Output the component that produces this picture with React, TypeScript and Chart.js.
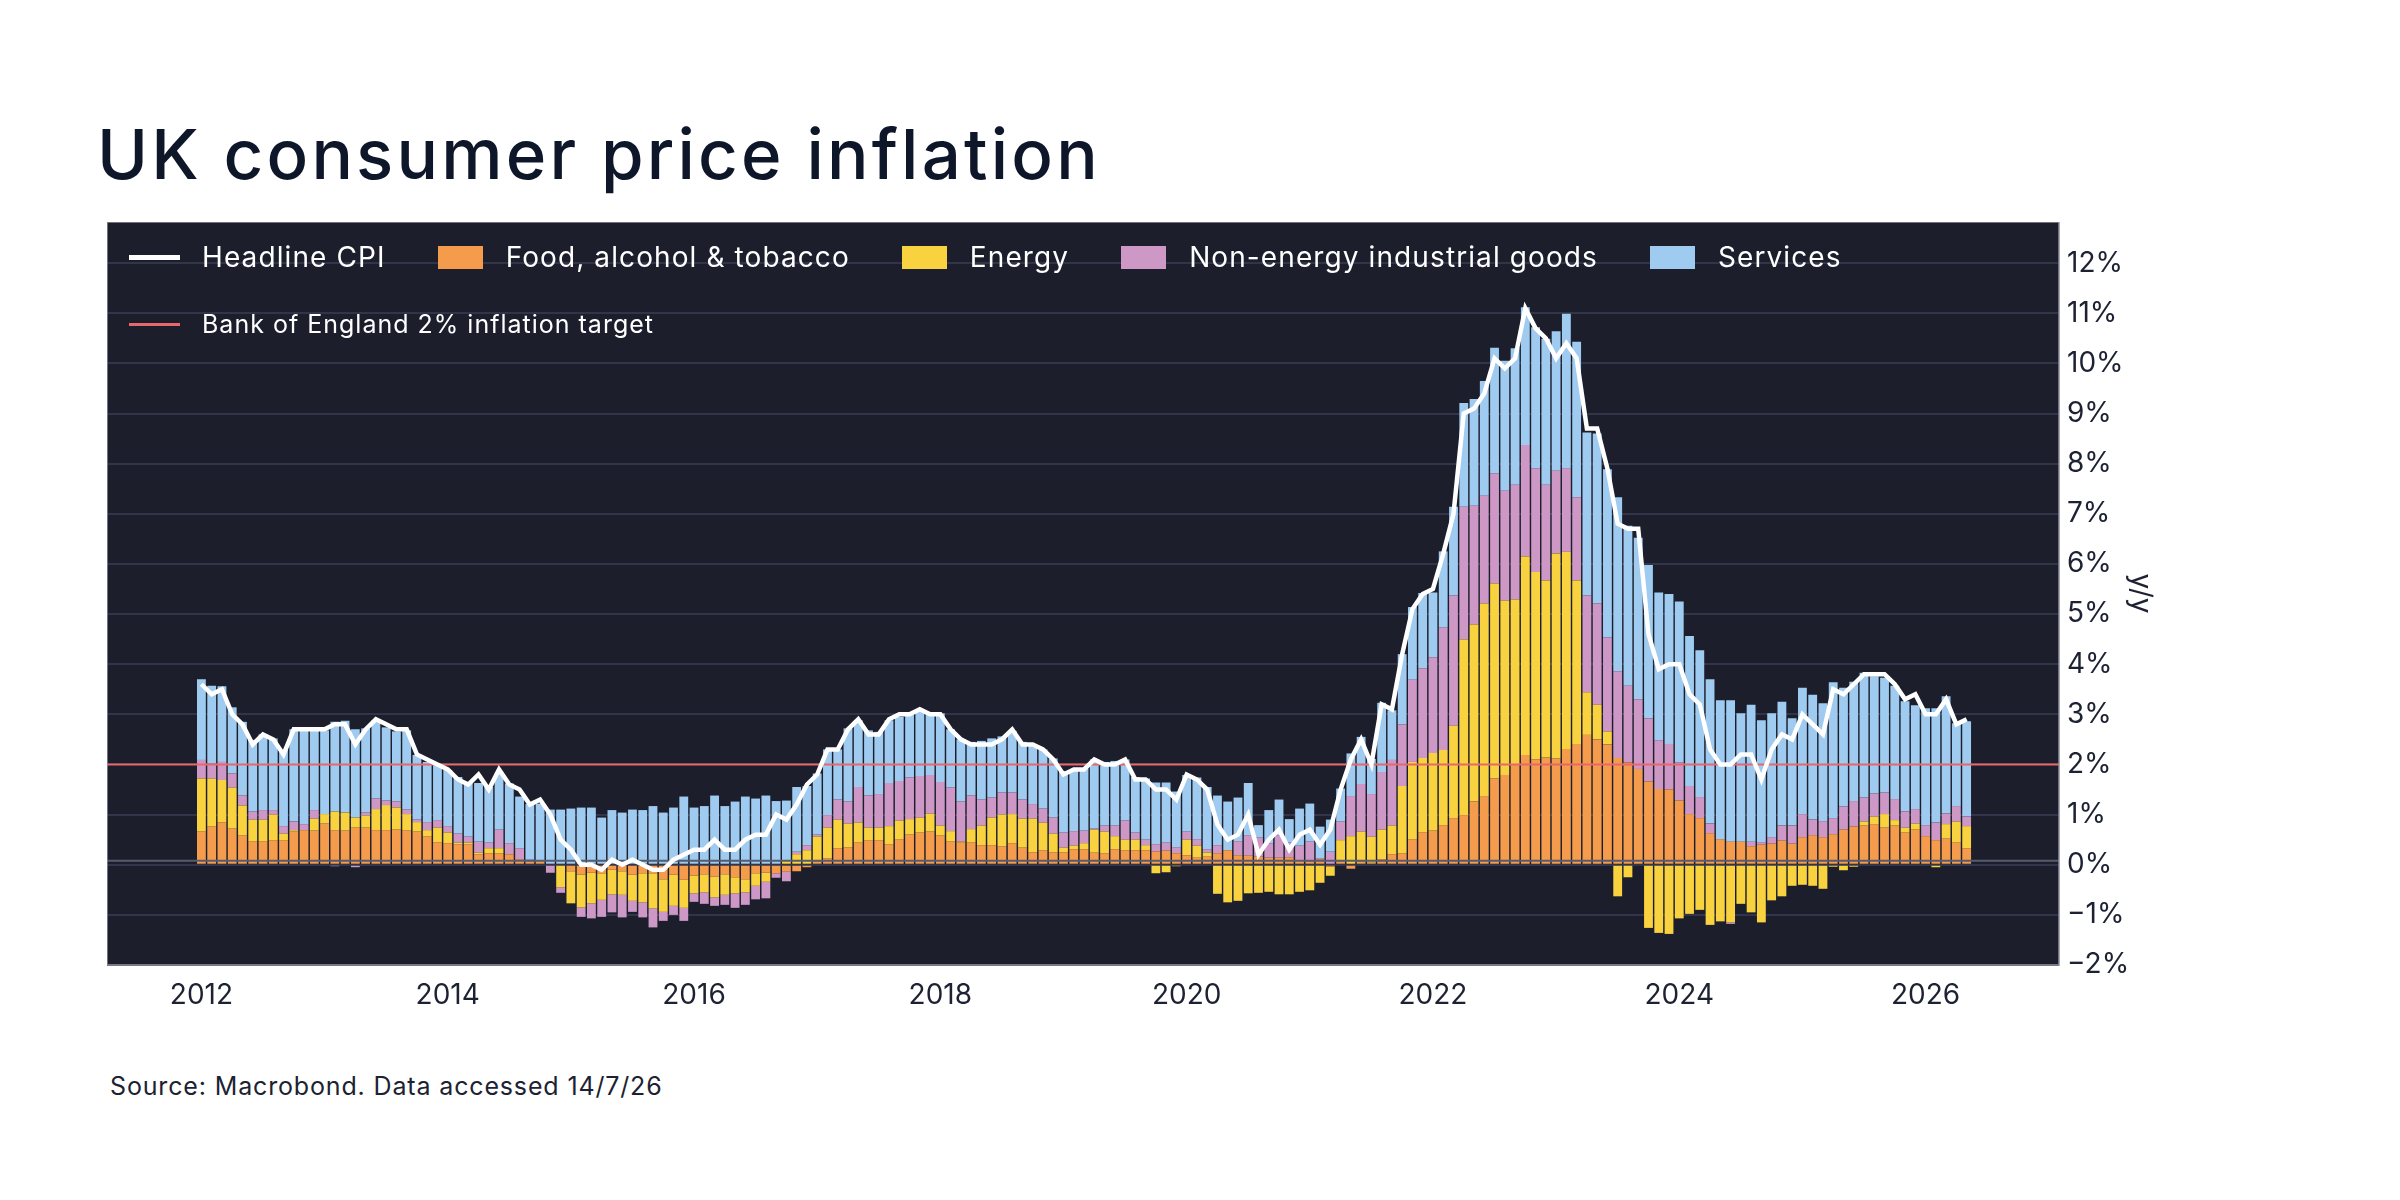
import React, { useEffect, useRef } from 'react';
import { Chart, registerables } from 'chart.js';

Chart.register(...registerables);

// Monthly labels, Jan 2012 .. May 2026
const months: string[] = [];
for (let y = 2012; y <= 2026; y++) {
  for (let m = 1; m <= 12; m++) months.push(`${y}-${String(m).padStart(2, '0')}`);
}
months.length = 173;

// Headline CPI, % y/y
const headlineCpi = [
  3.6, 3.4, 3.5, 3.0, 2.8, 2.4, 2.6, 2.5, 2.2, 2.7, 2.7, 2.7,
  2.7, 2.8, 2.8, 2.4, 2.7, 2.9, 2.8, 2.7, 2.7, 2.2, 2.1, 2.0,
  1.9, 1.7, 1.6, 1.8, 1.5, 1.9, 1.6, 1.5, 1.2, 1.3, 1.0, 0.5,
  0.3, 0.0, 0.0, -0.1, 0.1, 0.0, 0.1, 0.0, -0.1, -0.1, 0.1, 0.2,
  0.3, 0.3, 0.5, 0.3, 0.3, 0.5, 0.6, 0.6, 1.0, 0.9, 1.2, 1.6,
  1.8, 2.3, 2.3, 2.7, 2.9, 2.6, 2.6, 2.9, 3.0, 3.0, 3.1, 3.0,
  3.0, 2.7, 2.5, 2.4, 2.4, 2.4, 2.5, 2.7, 2.4, 2.4, 2.3, 2.1,
  1.8, 1.9, 1.9, 2.1, 2.0, 2.0, 2.1, 1.7, 1.7, 1.5, 1.5, 1.3,
  1.8, 1.7, 1.5, 0.8, 0.5, 0.6, 1.0, 0.2, 0.5, 0.7, 0.3, 0.6,
  0.7, 0.4, 0.7, 1.5, 2.1, 2.5, 2.0, 3.2, 3.1, 4.2, 5.1, 5.4,
  5.5, 6.2, 7.0, 9.0, 9.1, 9.4, 10.1, 9.9, 10.1, 11.1, 10.7, 10.5,
  10.1, 10.4, 10.1, 8.7, 8.7, 7.9, 6.8, 6.7, 6.7, 4.6, 3.9, 4.0,
  4.0, 3.4, 3.2, 2.3, 2.0, 2.0, 2.2, 2.2, 1.7, 2.3, 2.6, 2.5,
  3.0, 2.8, 2.6, 3.5, 3.4, 3.6, 3.8, 3.8, 3.8, 3.6, 3.3, 3.4,
  3.0, 3.0, 3.3, 2.8, 2.9,
];

// Contributions, percentage points
const foodAlcoholTobacco = [
  0.66, 0.76, 0.84, 0.72, 0.58, 0.46, 0.46, 0.49, 0.48, 0.66, 0.69, 0.68,
  0.82, 0.69, 0.68, 0.74, 0.74, 0.69, 0.69, 0.70, 0.69, 0.66, 0.56, 0.45,
  0.43, 0.41, 0.40, 0.21, 0.23, 0.23, 0.20, 0.11, 0.06, 0.09, 0.00, 0.00,
  -0.13, -0.20, -0.16, -0.17, -0.10, -0.13, -0.20, -0.17, -0.17, -0.29, -0.20, -0.30,
  -0.22, -0.19, -0.24, -0.19, -0.25, -0.29, -0.17, -0.16, -0.17, -0.14, -0.13, -0.05,
  0.06, 0.13, 0.33, 0.35, 0.44, 0.48, 0.49, 0.41, 0.50, 0.60, 0.64, 0.66,
  0.58, 0.46, 0.44, 0.44, 0.39, 0.39, 0.37, 0.43, 0.34, 0.25, 0.29, 0.25,
  0.25, 0.31, 0.31, 0.24, 0.23, 0.31, 0.29, 0.29, 0.29, 0.26, 0.28, 0.23,
  0.19, 0.14, 0.16, 0.23, 0.29, 0.19, 0.18, 0.16, 0.14, 0.14, 0.15, 0.09,
  0.06, 0.11, -0.04, 0.06, -0.08, 0.06, 0.04, 0.11, 0.21, 0.23, 0.50, 0.65,
  0.68, 0.79, 0.93, 0.99, 1.26, 1.37, 1.72, 1.79, 1.99, 2.19, 2.10, 2.14,
  2.12, 2.31, 2.41, 2.59, 2.50, 2.40, 2.13, 2.04, 1.91, 1.66, 1.51, 1.50,
  1.28, 1.01, 0.93, 0.63, 0.51, 0.46, 0.46, 0.37, 0.40, 0.42, 0.48, 0.42,
  0.55, 0.59, 0.55, 0.61, 0.70, 0.76, 0.78, 0.81, 0.74, 0.78, 0.64, 0.70,
  0.57, 0.49, 0.52, 0.44, 0.33,
];

const energy = [
  1.06, 0.96, 0.85, 0.82, 0.60, 0.44, 0.44, 0.51, 0.14, 0.03, 0.00, 0.24,
  0.19, 0.37, 0.36, 0.20, 0.24, 0.42, 0.50, 0.44, 0.32, 0.19, 0.13, 0.29,
  0.21, 0.03, 0.04, 0.03, 0.10, 0.10, 0.01, 0.00, -0.02, 0.00, 0.00, -0.45,
  -0.64, -0.65, -0.61, -0.53, -0.49, -0.47, -0.52, -0.58, -0.70, -0.65, -0.62, -0.56,
  -0.35, -0.36, -0.41, -0.41, -0.32, -0.26, -0.25, -0.18, 0.00, 0.09, 0.21, 0.29,
  0.50, 0.61, 0.57, 0.47, 0.40, 0.26, 0.25, 0.36, 0.38, 0.31, 0.30, 0.36,
  0.20, 0.21, 0.02, 0.27, 0.39, 0.55, 0.63, 0.58, 0.58, 0.67, 0.55, 0.37,
  0.09, 0.07, 0.12, 0.46, 0.43, 0.26, 0.21, 0.21, 0.10, -0.17, -0.15, -0.03,
  0.31, 0.24, 0.08, -0.58, -0.75, -0.72, -0.57, -0.56, -0.54, -0.59, -0.59, -0.54,
  -0.51, -0.36, -0.18, 0.43, 0.57, 0.60, 0.52, 0.59, 0.57, 1.34, 1.55, 1.48,
  1.55, 1.50, 1.84, 3.50, 3.53, 3.84, 3.89, 3.48, 3.30, 3.96, 3.74, 3.53,
  4.09, 3.93, 3.26, 0.85, 0.69, 0.26, -0.63, -0.25, -0.02, -1.26, -1.36, -1.38,
  -1.07, -0.98, -0.90, -1.20, -1.13, -1.15, -0.78, -0.95, -1.15, -0.71, -0.63, -0.42,
  -0.40, -0.42, -0.48, -0.04, -0.11, -0.04, 0.08, 0.15, 0.27, 0.11, 0.10, 0.12,
  0.00, -0.05, 0.29, 0.42, 0.44,
];

const nonEnergyGoods = [
  0.37, 0.30, 0.36, 0.28, 0.20, 0.16, 0.19, 0.09, 0.15, 0.17, 0.12, 0.17,
  0.00, -0.03, 0.00, -0.05, 0.06, 0.21, 0.09, 0.12, 0.09, 0.05, 0.16, 0.15,
  0.13, 0.18, 0.12, 0.22, 0.11, 0.37, 0.22, 0.22, 0.04, 0.00, -0.16, -0.11,
  0.00, -0.19, -0.30, -0.34, -0.36, -0.45, -0.22, -0.30, -0.38, -0.18, -0.18, -0.26,
  -0.17, -0.23, -0.17, -0.20, -0.29, -0.25, -0.27, -0.33, -0.09, -0.19, 0.05, 0.10,
  0.04, 0.25, 0.40, 0.44, 0.71, 0.64, 0.67, 0.86, 0.79, 0.83, 0.83, 0.77,
  0.87, 0.87, 0.80, 0.67, 0.52, 0.40, 0.44, 0.43, 0.38, 0.29, 0.28, 0.32,
  0.30, 0.29, 0.25, 0.02, 0.12, 0.21, 0.38, 0.14, 0.11, 0.15, 0.16, 0.12,
  0.16, 0.13, 0.07, 0.16, 0.00, 0.28, 0.41, 0.38, 0.29, 0.45, 0.29, 0.29,
  0.40, 0.02, 0.26, 0.37, 0.80, 0.95, 0.85, 1.15, 1.31, 1.23, 1.64, 1.79,
  1.91, 2.44, 2.60, 2.65, 2.37, 2.15, 2.20, 2.19, 2.29, 2.22, 2.07, 1.91,
  1.65, 1.67, 1.66, 1.93, 2.02, 1.87, 1.73, 1.53, 1.39, 1.26, 0.97, 0.91,
  0.76, 0.56, 0.42, 0.19, 0.00, -0.03, 0.00, 0.09, 0.05, 0.13, 0.30, 0.36,
  0.46, 0.31, 0.32, 0.32, 0.46, 0.51, 0.48, 0.46, 0.43, 0.42, 0.32, 0.29,
  0.22, 0.35, 0.21, 0.31, 0.19,
];

const services = [
  1.61, 1.55, 1.51, 1.32, 1.47, 1.43, 1.51, 1.43, 1.52, 1.84, 1.87, 1.59,
  1.67, 1.79, 1.83, 1.76, 1.68, 1.56, 1.46, 1.40, 1.58, 1.29, 1.20, 1.10,
  1.12, 1.13, 1.09, 1.17, 1.11, 1.12, 1.19, 1.03, 1.11, 1.13, 1.10, 1.10,
  1.12, 1.14, 1.14, 0.94, 1.09, 1.04, 1.10, 1.09, 1.17, 1.04, 1.14, 1.36,
  1.14, 1.17, 1.38, 1.17, 1.26, 1.36, 1.32, 1.38, 1.27, 1.19, 1.29, 1.18,
  1.22, 1.31, 1.00, 1.46, 1.33, 1.30, 1.24, 1.25, 1.28, 1.28, 1.33, 1.24,
  1.37, 1.16, 1.24, 1.07, 1.17, 1.18, 1.12, 1.23, 1.15, 1.16, 1.18, 1.18,
  1.23, 1.22, 1.24, 1.38, 1.27, 1.29, 1.22, 1.11, 1.22, 1.23, 1.20, 1.11,
  1.13, 1.23, 1.24, 0.99, 0.97, 0.87, 1.04, 0.25, 0.66, 0.71, 0.47, 0.74,
  0.76, 0.63, 0.64, 0.66, 0.85, 0.94, 0.70, 1.38, 0.99, 1.40, 1.45, 1.50,
  1.29, 1.52, 1.77, 2.07, 2.13, 2.29, 2.50, 2.59, 2.72, 2.75, 2.81, 2.91,
  2.78, 3.08, 3.10, 3.25, 3.39, 3.36, 3.47, 3.19, 3.22, 3.06, 2.95, 2.99,
  3.21, 2.99, 2.93, 2.88, 2.77, 2.82, 2.56, 2.73, 2.43, 2.47, 2.47, 2.14,
  2.52, 2.49, 2.35, 2.71, 2.37, 2.38, 2.49, 2.34, 2.29, 2.26, 2.20, 2.07,
  2.33, 2.28, 2.34, 1.65, 1.90,
];

const yearTicks = ['2012', '2014', '2016', '2018', '2020', '2022', '2024', '2026'];
const percentTicks = [-2, -1, 0, 1, 2, 3, 4, 5, 6, 7, 8, 9, 10, 11, 12];
const targetRate = 2;

const DARK = '#1c1e2b';
const GRID = '#32354a';
const INK = '#1d2232';
const FONT = "Inter, 'Noto Sans', sans-serif";

const COLORS = {
  headline: '#ffffff',
  food: '#f49b4c',
  energy: '#f9d23f',
  goods: '#cd97c6',
  services: '#9ecbef',
  target: '#e8676c',
};

const toPoints = (values: number[]) => values.map((y, x) => ({ x, y }));

// dark plot panel, reference lines on top of the bars, thin frame
const plotPanel = {
  id: 'plotPanel',
  beforeDraw(chart: any) {
    const { ctx, chartArea: a } = chart;
    ctx.save();
    ctx.fillStyle = DARK;
    ctx.fillRect(a.left, a.top, a.right - a.left, a.bottom - a.top);
    ctx.restore();
  },
  afterDatasetDraw(chart: any, args: any) {
    if (args.index !== 1) return; // last bar series drawn, before the headline line
    const { ctx, chartArea: a, scales } = chart;
    const y0 = scales.y.getPixelForValue(0);
    const yT = scales.y.getPixelForValue(targetRate);
    ctx.save();
    ctx.lineWidth = 2;
    ctx.strokeStyle = '#565b70';
    ctx.beginPath();
    ctx.moveTo(a.left, y0 - 4);
    ctx.lineTo(a.right, y0 - 4);
    ctx.stroke();
    ctx.strokeStyle = COLORS.target;
    ctx.beginPath();
    ctx.moveTo(a.left, yT);
    ctx.lineTo(a.right, yT);
    ctx.stroke();
    ctx.restore();
  },
  afterDraw(chart: any) {
    const { ctx, chartArea: a } = chart;
    ctx.save();
    ctx.strokeStyle = '#8d909c';
    ctx.lineWidth = 1.5;
    ctx.strokeRect(a.left, a.top, a.right - a.left, a.bottom - a.top);
    ctx.restore();
  },
};

function barSeries(label: string, values: number[], color: string) {
  return {
    type: 'bar' as const,
    label,
    data: toPoints(values),
    backgroundColor: color,
    borderWidth: 0,
    barPercentage: 0.86,
    categoryPercentage: 1,
    stack: 'components',
    order: 1,
  };
}

function InflationChart() {
  const canvasRef = useRef<HTMLCanvasElement>(null);
  const chartRef = useRef<Chart | null>(null);

  useEffect(() => {
    const ctx = canvasRef.current!.getContext('2d')!;
    if (chartRef.current) chartRef.current.destroy();

    chartRef.current = new Chart(ctx, {
      type: 'bar',
      data: {
        datasets: [
          {
            type: 'line',
            label: 'Headline CPI',
            data: toPoints(headlineCpi),
            borderColor: COLORS.headline,
            borderWidth: 4.5,
            pointRadius: 0,
            tension: 0,
            stack: 'headline',
            order: 0,
          },
          barSeries('Food, alcohol & tobacco', foodAlcoholTobacco, COLORS.food),
          barSeries('Energy', energy, COLORS.energy),
          barSeries('Non-energy industrial goods', nonEnergyGoods, COLORS.goods),
          barSeries('Services', services, COLORS.services),
        ] as any,
      },
      options: {
        animation: false,
        responsive: true,
        maintainAspectRatio: false,
        layout: { padding: 0 },
        plugins: {
          legend: { display: false },
          tooltip: { enabled: false },
        },
        scales: {
          x: {
            type: 'linear',
            min: -9.2,
            max: 181,
            offset: false,
            stacked: true,
            grid: { display: false },
            border: { display: false },
            afterBuildTicks: (axis: any) => {
              axis.ticks = yearTicks.map((y) => ({ value: months.indexOf(`${y}-01`) }));
            },
            afterFit: (axis: any) => {
              axis.height = 65;
              axis.paddingLeft = 0;
              axis.paddingRight = 0;
            },
            ticks: {
              autoSkip: false,
              maxRotation: 0,
              padding: 6,
              color: INK,
              font: { family: FONT, size: 28 },
              callback: (value: any) => months[value].slice(0, 4),
            },
          },
          y: {
            type: 'linear',
            position: 'right',
            min: -2,
            max: 12.82,
            stacked: true,
            grid: {
              color: GRID,
              lineWidth: 2,
              drawTicks: false,
            },
            border: { display: false },
            afterBuildTicks: (axis: any) => {
              axis.ticks = percentTicks.map((v) => ({ value: v }));
            },
            afterFit: (axis: any) => {
              axis.width = 102;
              axis.paddingTop = 0;
              axis.paddingBottom = 0;
            },
            ticks: {
              padding: 8,
              color: INK,
              font: { family: FONT, size: 28 },
              callback: (value: any) => `${value < 0 ? '\u2212' : ''}${Math.abs(value)}%`,
            },
            title: {
              display: true,
              text: 'y/y',
              color: INK,
              padding: { top: 4, bottom: 0 },
              font: { family: FONT, size: 28 },
            },
          },
        },
      } as any,
      plugins: [plotPanel],
    });

    return () => {
      if (chartRef.current) {
        chartRef.current.destroy();
        chartRef.current = null;
      }
    };
  }, []);

  return (
    <div style={{ position: 'absolute', left: 107, top: 222, width: 2054, height: 808 }}>
      <canvas ref={canvasRef} />
    </div>
  );
}

const legendRows = [
  [
    { label: 'Headline CPI', kind: 'line', color: COLORS.headline },
    { label: 'Food, alcohol & tobacco', kind: 'box', color: COLORS.food },
    { label: 'Energy', kind: 'box', color: COLORS.energy },
    { label: 'Non-energy industrial goods', kind: 'box', color: COLORS.goods },
    { label: 'Services', kind: 'box', color: COLORS.services },
  ],
  [{ label: 'Bank of England 2% inflation target', kind: 'thin', color: COLORS.target }],
];

function Legend() {
  return (
    <>
      {legendRows.map((row, r) => (
        <div
          key={r}
          style={{
            position: 'absolute',
            left: 129,
            top: r === 0 ? 237 : 304,
            height: 40,
            display: 'flex',
            alignItems: 'center',
            fontFamily: FONT,
            fontSize: r === 0 ? 28 : 25,
            letterSpacing: r === 0 ? 1.1 : 1.0,
            lineHeight: '40px',
            color: '#ffffff',
            whiteSpace: 'nowrap',
          }}
        >
          {row.map((item) => (
            <div key={item.label} style={{ display: 'flex', alignItems: 'center', marginRight: 52 }}>
              <span
                style={{
                  display: 'inline-block',
                  width: item.kind === 'box' ? 45 : 51,
                  height: item.kind === 'box' ? 23 : item.kind === 'line' ? 5 : 3,
                  background: item.color,
                  marginRight: item.kind === 'box' ? 23 : 22,
                }}
              />
              <span>{item.label}</span>
            </div>
          ))}
        </div>
      ))}
    </>
  );
}

export default function App() {
  return (
    <div
      style={{
        position: 'absolute',
        left: 0,
        top: 0,
        width: 2400,
        height: 1200,
        overflow: 'hidden',
        background: '#ffffff',
        fontFamily: FONT,
      }}
    >
      <div
        style={{
          position: 'absolute',
          left: 97,
          top: 120,
          fontSize: 69,
          letterSpacing: 3.2,
          lineHeight: 1,
          fontWeight: 500,
          color: '#0e1629',
          whiteSpace: 'nowrap',
        }}
      >
        UK consumer price inflation
      </div>
      <InflationChart />
      <Legend />
      <div
        style={{
          position: 'absolute',
          left: 110,
          top: 1071,
          fontSize: 25,
          letterSpacing: 0.85,
          lineHeight: '30px',
          color: INK,
          whiteSpace: 'nowrap',
        }}
      >
        Source: Macrobond. Data accessed 14/7/26
      </div>
    </div>
  );
}
